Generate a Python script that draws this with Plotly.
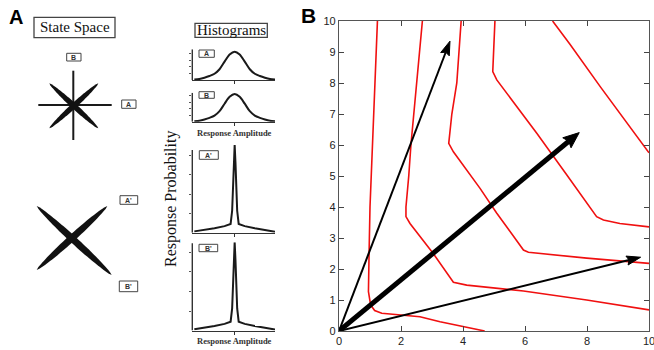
import math
import plotly.graph_objects as go

W, H = 654, 350

# ---------------- Panel B data ----------------
c1_x = [1.24, 1.18, 1.08, 1.00, 0.97, 0.95, 1.02, 1.15, 1.38, 1.86, 2.61, 3.26, 4.00, 4.70]
c1_y = [10.0, 8.5, 6.5, 4.0, 2.5, 1.27, 0.84, 0.66, 0.57, 0.52, 0.46, 0.30, 0.14, 0.0]

c2_x = [2.69, 2.50, 2.32, 2.25, 2.16, 2.16, 2.29, 3.04, 3.47, 3.69, 4.12, 4.55, 5.95, 7.99, 10.0]
c2_y = [10.0, 8.0, 6.0, 5.0, 4.0, 3.69, 3.47, 2.50, 1.91, 1.57, 1.48, 1.43, 1.29, 1.00, 0.68]

c3_x = [3.94, 3.80, 3.64, 3.55, 3.54, 3.69, 4.17, 4.55, 5.09, 5.95, 6.11, 7.99, 10.0]
c3_y = [10.0, 8.0, 7.0, 6.27, 6.05, 5.78, 5.14, 4.60, 3.80, 2.61, 2.54, 2.35, 2.18]

c4_x = [5.03, 4.98, 4.96, 5.09, 6.38, 7.35, 8.31, 8.53, 9.06, 10.0]
c4_y = [10.0, 8.74, 8.37, 8.10, 6.38, 5.03, 3.69, 3.58, 3.47, 3.36]

c5_x = [6.89, 7.45, 8.45, 10.0]
c5_y = [10.0, 9.25, 7.85, 5.75]

curves_x = [c1_x, c2_x, c3_x, c4_x, c5_x]
curves_y = [c1_y, c2_y, c3_y, c4_y, c5_y]

arrow_tip_x = [3.58, 7.75, 9.73]
arrow_tip_y = [9.35, 6.40, 2.38]

b_xticks = [0, 2, 4, 6, 8, 10]
b_yticks = list(range(0, 11))

# ---------------- Panel A histogram data ----------------
gauss_x = [-4, -3.5, -3, -2.5, -2, -1.5, -1, -0.5, 0, 0.5, 1, 1.5, 2, 2.5, 3, 3.5, 4]
gauss_y = [0.015, 0.035, 0.08, 0.14, 0.22, 0.38, 0.65, 0.9, 1.0, 0.9, 0.65, 0.38, 0.22, 0.14, 0.08, 0.035, 0.015]

spike_x = [-4, -3, -2, -1, -0.4, -0.25, -0.16, -0.08, 0, 0.08, 0.16, 0.25, 0.4, 1, 2, 3, 4]
spike_y = [0.015, 0.03, 0.05, 0.075, 0.1, 0.25, 0.5, 0.8, 1.0, 0.8, 0.5, 0.25, 0.1, 0.075, 0.05, 0.03, 0.01]

hist_labels = ["A", "B", "A'", "B'"]

# ---------------- helpers ----------------
def PX(x):
    return x / W

def PY(y):
    return 1 - y / H

fig = go.Figure()

# Panel B curves
for cx, cy in zip(curves_x, curves_y):
    fig.add_trace(go.Scatter(x=cx, y=cy, mode="lines",
                             line=dict(color="#f01010", width=1.6),
                             xaxis="x", yaxis="y", hoverinfo="skip"))

# Panel B arrows
head_len = [14 / 31, 16 / 31, 14 / 31]
head_hw = [4.6 / 31, 6.5 / 31, 4.6 / 31]
line_w = [2.0, 5.0, 2.0]
for tx, ty, hl, hw, lw in zip(arrow_tip_x, arrow_tip_y, head_len, head_hw, line_w):
    L = math.hypot(tx, ty)
    dx, dy = tx / L, ty / L
    nx, ny = -dy, dx
    bx, by = tx - 0.85 * hl * dx, ty - 0.85 * hl * dy
    fig.add_trace(go.Scatter(x=[0, bx], y=[0, by], mode="lines",
                             line=dict(color="black", width=lw),
                             xaxis="x", yaxis="y", hoverinfo="skip"))
    hx = [tx, tx - hl * dx + hw * nx, bx, tx - hl * dx - hw * nx, tx]
    hy = [ty, ty - hl * dy + hw * ny, by, ty - hl * dy - hw * ny, ty]
    fig.add_trace(go.Scatter(x=hx, y=hy, mode="lines", fill="toself",
                             fillcolor="black", line=dict(color="black", width=1),
                             xaxis="x", yaxis="y", hoverinfo="skip"))

# Histogram subplots
hist_specs = [
    (2, (192.3, 275.0), (49.3, 80.0), 1.085, "g", 1.085),
    (3, (192.3, 275.0), (92.7, 121.7), 1.047, "g", 1.047),
    (4, (192.3, 275.0), (145.0, 232.7), 1.0, "s", 0.943),
    (5, (192.3, 275.0), (242.3, 330.5), 1.0, "s", 0.99),
]
tick_sets = {
    2: [0.235, 0.47, 0.705, 0.94],
    3: [0.235, 0.47, 0.705, 0.94],
    4: [0.22, 0.44, 0.665, 0.885],
    5: [0.22, 0.44, 0.665, 0.885],
}
layout_axes = {}
shapes = []
for spec in hist_specs:
    idx, xd, yd, ytop, kind, linetop = spec
    xs = gauss_x if kind == "g" else spike_x
    ys = gauss_y if kind == "g" else spike_y
    fig.add_trace(go.Scatter(x=xs, y=ys, mode="lines",
                             line=dict(color="#1a1a1a", width=2,
                                       shape="spline" if kind == "g" else "linear",
                                       smoothing=0.8 if kind == "g" else 0),
                             xaxis=f"x{idx}", yaxis=f"y{idx}", hoverinfo="skip"))
    layout_axes[f"xaxis{idx}"] = dict(domain=[PX(xd[0]), PX(xd[1])], range=[-4.2, 4.0],
                                      anchor=f"y{idx}", showline=True, linecolor="#333",
                                      linewidth=1.4, ticks="outside", tickvals=[0], ticklen=3,
                                      tickcolor="#333", showticklabels=False, automargin=False,
                                      showgrid=False, zeroline=False)
    layout_axes[f"yaxis{idx}"] = dict(domain=[PY(yd[1]), PY(yd[0])], range=[0, ytop],
                                      anchor=f"x{idx}", showline=False, automargin=False,
                                      ticks="outside", tickvals=tick_sets[idx], ticklen=2.5,
                                      tickcolor="#555", showticklabels=False,
                                      showgrid=False, zeroline=False)
    shapes.append(dict(type="line", xref=f"x{idx} domain", yref=f"y{idx}",
                       x0=0, x1=0, y0=0, y1=linetop,
                       line=dict(color="#333", width=1.4)))

# ---------------- Panel A drawings ----------------
def spindle(p1, p2, w, n=30):
    x1, y1 = p1
    x2, y2 = p2
    dx, dy = x2 - x1, y2 - y1
    L = math.hypot(dx, dy)
    nx, ny = -dy / L, dx / L
    top, bot = [], []
    for i in range(n + 1):
        t = i / n
        f = math.sin(math.pi * t) ** 0.55
        cx, cy = x1 + dx * t, y1 + dy * t
        top.append((cx + nx * w / 2 * f, cy + ny * w / 2 * f))
        bot.append((cx - nx * w / 2 * f, cy - ny * w / 2 * f))
    pts = top + bot[::-1]
    path = "M " + " L ".join(f"{PX(x):.5f},{PY(y):.5f}" for x, y in pts) + " Z"
    return dict(type="path", xref="paper", yref="paper", path=path,
                fillcolor="#111", line=dict(width=0), layer="above")

def pline(x0, y0, x1, y1, w=2, color="#1a1a1a"):
    return dict(type="line", xref="paper", yref="paper",
                x0=PX(x0), y0=PY(y0), x1=PX(x1), y1=PY(y1),
                line=dict(color=color, width=w), layer="above")

def prect(x0, y0, x1, y1, w=1.1):
    return dict(type="rect", xref="paper", yref="paper",
                x0=PX(x0), y0=PY(y0), x1=PX(x1), y1=PY(y1),
                line=dict(color="#444", width=w), fillcolor="rgba(0,0,0,0)", layer="above")

# star
shapes.append(pline(38.3, 105, 111.7, 105, 2))
shapes.append(pline(73.3, 70.7, 73.3, 140, 2))
shapes.append(spindle((49.3, 83.3), (98.3, 128.3), 5.5))
shapes.append(spindle((49.3, 128.3), (98.3, 83.3), 5.5))
# X
shapes.append(spindle((36.7, 206), (111.7, 275), 7.0))
shapes.append(spindle((36.7, 270), (107.3, 206), 7.0))

# boxes
shapes.append(prect(34, 17.3, 115, 37.7, 1.3))
shapes.append(prect(195, 23.3, 267.3, 37.3, 1.3))
small_boxes = [
    ("B", 66.7, 53.3, 81, 61),
    ("A", 121.7, 100, 136, 108.3),
    ("A'", 120, 195.7, 137.7, 204.3),
    ("B'", 119.3, 281, 137.7, 291.7),
    (hist_labels[0], 199, 50, 214.3, 57.3),
    (hist_labels[1], 199, 91.7, 214.3, 98.3),
    (hist_labels[2], 199.3, 150.7, 218.3, 159.3),
    (hist_labels[3], 199, 244.3, 217.7, 251.7),
]
annotations = []
for lab, x0, y0, x1, y1 in small_boxes:
    shapes.append(prect(x0, y0, x1, y1, 1.0))
    annotations.append(dict(text=f"<b>{lab}</b>", x=PX((x0 + x1) / 2), y=PY((y0 + y1) / 2 + 0.3),
                            xref="paper", yref="paper", showarrow=False,
                            xanchor="center", yanchor="middle",
                            font=dict(family="Liberation Sans", size=7, color="#333")))

serif = "Liberation Serif, Times New Roman, serif"
annotations += [
    dict(text="<b>A</b>", x=PX(7), y=PY(17), xref="paper", yref="paper", showarrow=False,
         xanchor="left", yanchor="middle", font=dict(family="Liberation Sans", size=20, color="black")),
    dict(text="<b>B</b>", x=PX(299), y=PY(16), xref="paper", yref="paper", showarrow=False,
         xanchor="left", yanchor="middle", font=dict(family="Liberation Sans", size=21, color="black")),
    dict(text="State Space", x=PX(74.5), y=PY(27.5), xref="paper", yref="paper", showarrow=False,
         xanchor="center", yanchor="middle", font=dict(family=serif, size=15, color="#111")),
    dict(text="Histograms", x=PX(231.2), y=PY(30.3), xref="paper", yref="paper", showarrow=False,
         xanchor="center", yanchor="middle", font=dict(family=serif, size=15, color="#111")),
    dict(text="Response Probability", x=PX(171), y=PY(199), xref="paper", yref="paper",
         showarrow=False, textangle=-90, xanchor="center", yanchor="middle",
         font=dict(family=serif, size=16, color="#111")),
    dict(text="<b>Response Amplitude</b>", x=PX(235), y=PY(132.7), xref="paper", yref="paper",
         showarrow=False, xanchor="center", yanchor="middle",
         font=dict(family=serif, size=8.5, color="#333")),
    dict(text="<b>Response Amplitude</b>", x=PX(235), y=PY(341), xref="paper", yref="paper",
         showarrow=False, xanchor="center", yanchor="middle",
         font=dict(family=serif, size=8.5, color="#333")),
]

fig.update_layout(
    template="none",
    width=W, height=H,
    margin=dict(l=0, r=0, t=0, b=0, pad=0, autoexpand=False),
    paper_bgcolor="white", plot_bgcolor="white",
    showlegend=False,
    xaxis=dict(domain=[PX(339), PX(649)], range=[0, 10], anchor="y", automargin=False,
               tickvals=b_xticks, ticks="inside", ticklen=5, tickcolor="#444",
               mirror="allticks", showline=True, linecolor="#555", linewidth=1.3,
               showgrid=False, zeroline=False, ticklabeloverflow="allow",
               tickfont=dict(family="Liberation Sans", size=11, color="#222")),
    yaxis=dict(domain=[PY(331), PY(21)], range=[0, 10], anchor="x", automargin=False,
               tickvals=b_yticks, ticks="inside", ticklen=5, tickcolor="#444",
               mirror="allticks", showline=True, linecolor="#555", linewidth=1.3,
               showgrid=False, zeroline=False, ticklabeloverflow="allow",
               tickfont=dict(family="Liberation Sans", size=11, color="#222")),
    shapes=shapes,
    annotations=annotations,
    **layout_axes,
)

fig.write_html("out.html",
               config={"displayModeBar": False},
               post_script="document.body.style.margin='0px';document.body.style.overflow='hidden';")
